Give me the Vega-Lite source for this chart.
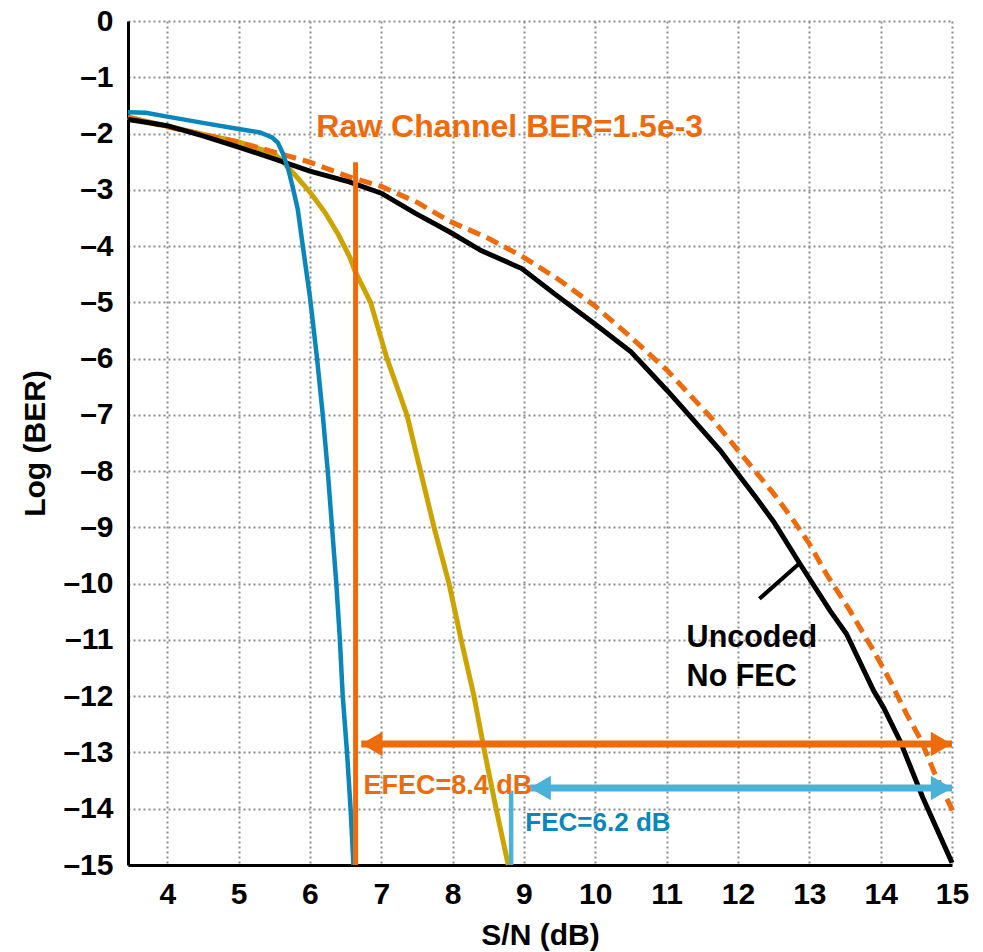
{
  "$schema": "https://vega.github.io/schema/vega-lite/v6.json",
  "width": 824,
  "height": 844,
  "autosize": {"type": "none"},
  "padding": {"left": 128, "top": 21, "right": 31, "bottom": 87},
  "background": "white",
  "config": {
    "view": {"stroke": null},
    "font": "Liberation Sans",
    "axis": {
      "grid": true,
      "gridColor": "#8c8c8c",
      "gridDash": [2, 3],
      "gridWidth": 2,
      "ticks": false,
      "domainColor": "#000000",
      "domainWidth": 3,
      "labelFont": "Liberation Sans",
      "labelFontWeight": "bold",
      "labelFontSize": 30,
      "labelColor": "#000000",
      "labelFlush": false,
      "labelOverlap": false,
      "titleFont": "Liberation Sans",
      "titleFontWeight": "bold",
      "titleFontSize": 30,
      "titleColor": "#000000"
    }
  },
  "datasets": {
    "curves": [
      {"series": "uncoded", "x": 3.45, "y": -1.75},
      {"series": "uncoded", "x": 3.7, "y": -1.8},
      {"series": "uncoded", "x": 4.0, "y": -1.86},
      {"series": "uncoded", "x": 4.5, "y": -2.04},
      {"series": "uncoded", "x": 5.0, "y": -2.24},
      {"series": "uncoded", "x": 5.5, "y": -2.45},
      {"series": "uncoded", "x": 6.0, "y": -2.67},
      {"series": "uncoded", "x": 6.55, "y": -2.86},
      {"series": "uncoded", "x": 7.0, "y": -3.06},
      {"series": "uncoded", "x": 7.48, "y": -3.42},
      {"series": "uncoded", "x": 7.96, "y": -3.75},
      {"series": "uncoded", "x": 8.4, "y": -4.08},
      {"series": "uncoded", "x": 8.97, "y": -4.4},
      {"series": "uncoded", "x": 9.43, "y": -4.85},
      {"series": "uncoded", "x": 9.99, "y": -5.38},
      {"series": "uncoded", "x": 10.5, "y": -5.88},
      {"series": "uncoded", "x": 11.01, "y": -6.57},
      {"series": "uncoded", "x": 11.34, "y": -7.04},
      {"series": "uncoded", "x": 11.75, "y": -7.63},
      {"series": "uncoded", "x": 12.0, "y": -8.05},
      {"series": "uncoded", "x": 12.27, "y": -8.5},
      {"series": "uncoded", "x": 12.5, "y": -8.9},
      {"series": "uncoded", "x": 12.87, "y": -9.65},
      {"series": "uncoded", "x": 13.29, "y": -10.48},
      {"series": "uncoded", "x": 13.52, "y": -10.89},
      {"series": "uncoded", "x": 13.9, "y": -11.9},
      {"series": "uncoded", "x": 14.04, "y": -12.2},
      {"series": "uncoded", "x": 14.27, "y": -12.79},
      {"series": "uncoded", "x": 14.59, "y": -13.8},
      {"series": "uncoded", "x": 15.0, "y": -14.96},
      {"series": "raw", "x": 3.45, "y": -1.71},
      {"series": "raw", "x": 4.0, "y": -1.88},
      {"series": "raw", "x": 4.5, "y": -2.02},
      {"series": "raw", "x": 5.0, "y": -2.15},
      {"series": "raw", "x": 5.5, "y": -2.33},
      {"series": "raw", "x": 6.0, "y": -2.51},
      {"series": "raw", "x": 6.55, "y": -2.77},
      {"series": "raw", "x": 7.0, "y": -2.94},
      {"series": "raw", "x": 7.5, "y": -3.22},
      {"series": "raw", "x": 7.96, "y": -3.56},
      {"series": "raw", "x": 8.5, "y": -3.86},
      {"series": "raw", "x": 8.97, "y": -4.18},
      {"series": "raw", "x": 9.47, "y": -4.58},
      {"series": "raw", "x": 9.99, "y": -5.06},
      {"series": "raw", "x": 10.5, "y": -5.62},
      {"series": "raw", "x": 11.0, "y": -6.2},
      {"series": "raw", "x": 11.66, "y": -7.1},
      {"series": "raw", "x": 12.0, "y": -7.63},
      {"series": "raw", "x": 12.5, "y": -8.4},
      {"series": "raw", "x": 12.78, "y": -8.88},
      {"series": "raw", "x": 13.0, "y": -9.29},
      {"series": "raw", "x": 13.24, "y": -9.83},
      {"series": "raw", "x": 13.57, "y": -10.48},
      {"series": "raw", "x": 13.9, "y": -11.19},
      {"series": "raw", "x": 14.13, "y": -11.72},
      {"series": "raw", "x": 14.36, "y": -12.31},
      {"series": "raw", "x": 14.57, "y": -12.79},
      {"series": "raw", "x": 14.75, "y": -13.35},
      {"series": "raw", "x": 15.03, "y": -14.09},
      {"series": "efec", "x": 3.45, "y": -1.71},
      {"series": "efec", "x": 4.0, "y": -1.87},
      {"series": "efec", "x": 4.5, "y": -2.01},
      {"series": "efec", "x": 5.0, "y": -2.15},
      {"series": "efec", "x": 5.5, "y": -2.36},
      {"series": "efec", "x": 5.62, "y": -2.5},
      {"series": "efec", "x": 5.8, "y": -2.75},
      {"series": "efec", "x": 6.0, "y": -3.04},
      {"series": "efec", "x": 6.21, "y": -3.4},
      {"series": "efec", "x": 6.4, "y": -3.8},
      {"series": "efec", "x": 6.56, "y": -4.2},
      {"series": "efec", "x": 6.63, "y": -4.44},
      {"series": "efec", "x": 6.85, "y": -5.0},
      {"series": "efec", "x": 7.08, "y": -6.0},
      {"series": "efec", "x": 7.36, "y": -7.0},
      {"series": "efec", "x": 7.55, "y": -8.0},
      {"series": "efec", "x": 7.74, "y": -9.0},
      {"series": "efec", "x": 7.95, "y": -10.0},
      {"series": "efec", "x": 8.12, "y": -11.0},
      {"series": "efec", "x": 8.3, "y": -12.0},
      {"series": "efec", "x": 8.45, "y": -13.0},
      {"series": "efec", "x": 8.61, "y": -14.0},
      {"series": "efec", "x": 8.78, "y": -15.0},
      {"series": "fec", "x": 3.45, "y": -1.62},
      {"series": "fec", "x": 3.7, "y": -1.63},
      {"series": "fec", "x": 4.0, "y": -1.7},
      {"series": "fec", "x": 4.5, "y": -1.81},
      {"series": "fec", "x": 5.0, "y": -1.92},
      {"series": "fec", "x": 5.3, "y": -1.98},
      {"series": "fec", "x": 5.47, "y": -2.07},
      {"series": "fec", "x": 5.55, "y": -2.16},
      {"series": "fec", "x": 5.62, "y": -2.35},
      {"series": "fec", "x": 5.7, "y": -2.65},
      {"series": "fec", "x": 5.76, "y": -2.96},
      {"series": "fec", "x": 5.83, "y": -3.35},
      {"series": "fec", "x": 5.9, "y": -4.0},
      {"series": "fec", "x": 6.0, "y": -4.9},
      {"series": "fec", "x": 6.1, "y": -6.0},
      {"series": "fec", "x": 6.18, "y": -7.0},
      {"series": "fec", "x": 6.25, "y": -8.0},
      {"series": "fec", "x": 6.31, "y": -9.0},
      {"series": "fec", "x": 6.37, "y": -10.0},
      {"series": "fec", "x": 6.42, "y": -11.0},
      {"series": "fec", "x": 6.46, "y": -12.0},
      {"series": "fec", "x": 6.52, "y": -13.0},
      {"series": "fec", "x": 6.57, "y": -14.0},
      {"series": "fec", "x": 6.61, "y": -15.0}
    ],
    "vrules": [
      {"name": "raw", "x": 6.64, "y": -2.51, "y2": -15},
      {"name": "fec", "x": 8.82, "y": -13.68, "y2": -15}
    ],
    "arrows": [
      {"name": "efec", "x": 6.72, "x2": 15.0, "y": -12.85},
      {"name": "fec", "x": 9.08, "x2": 15.0, "y": -13.63}
    ],
    "leader": [
      {"x": 12.3, "y": -10.27},
      {"x": 12.86, "y": -9.64}
    ],
    "labels": [
      {"name": "raw", "text": "Raw Channel BER=1.5e-3", "x": 6.09, "y": -2.06},
      {"name": "efec", "text": "EFEC=8.4 dB", "x": 6.75, "y": -13.73},
      {"name": "fec", "text": "FEC=6.2 dB", "x": 9.02, "y": -14.4},
      {"name": "uncoded", "text": "Uncoded", "x": 11.28, "y": -11.13},
      {"name": "uncoded", "text": "No FEC", "x": 11.28, "y": -11.81}
    ]
  },
  "layer": [
    {
      "data": {"name": "curves"},
      "transform": [{"filter": "datum.series == 'efec'"}],
      "mark": {"type": "line", "color": "#CCA300", "strokeWidth": 5, "clip": false},
      "encoding": {
        "x": {
          "field": "x", "type": "quantitative",
          "scale": {"domain": [3.45, 15], "nice": false, "zero": false},
          "axis": {
            "title": "S/N (dB)",
            "format": "d",
            "values": [4, 5, 6, 7, 8, 9, 10, 11, 12, 13, 14, 15],
            "labelPadding": 14,
            "titlePadding": 11
          }
        },
        "y": {
          "field": "y", "type": "quantitative",
          "scale": {"domain": [-15, 0], "nice": false, "zero": false},
          "axis": {
            "title": "Log (BER)",
            "values": [0, -1, -2, -3, -4, -5, -6, -7, -8, -9, -10, -11, -12, -13, -14, -15],
            "labelExpr": "datum.value == 0 ? '0' : '–' + abs(datum.value)",
            "labelPadding": 15,
            "titlePadding": 12
          }
        },
        "order": {"field": "x", "type": "quantitative"}
      }
    },
    {
      "data": {"name": "curves"},
      "transform": [{"filter": "datum.series == 'raw'"}],
      "mark": {"type": "line", "color": "#EE6B0C", "strokeWidth": 5, "strokeDash": [13, 7], "clip": false},
      "encoding": {
        "x": {"field": "x", "type": "quantitative"},
        "y": {"field": "y", "type": "quantitative"},
        "order": {"field": "x", "type": "quantitative"}
      }
    },
    {
      "data": {"name": "curves"},
      "transform": [{"filter": "datum.series == 'uncoded'"}],
      "mark": {"type": "line", "color": "#000000", "strokeWidth": 5},
      "encoding": {
        "x": {"field": "x", "type": "quantitative"},
        "y": {"field": "y", "type": "quantitative"},
        "order": {"field": "x", "type": "quantitative"}
      }
    },
    {
      "data": {"name": "curves"},
      "transform": [{"filter": "datum.series == 'fec'"}],
      "mark": {"type": "line", "color": "#0A86BA", "strokeWidth": 4.5},
      "encoding": {
        "x": {"field": "x", "type": "quantitative"},
        "y": {"field": "y", "type": "quantitative"},
        "order": {"field": "x", "type": "quantitative"}
      }
    },
    {
      "data": {"name": "vrules"},
      "transform": [{"filter": "datum.name == 'raw'"}],
      "mark": {"type": "rule", "color": "#EE6B0C", "strokeWidth": 5},
      "encoding": {
        "x": {"field": "x", "type": "quantitative"},
        "y": {"field": "y", "type": "quantitative"},
        "y2": {"field": "y2"}
      }
    },
    {
      "data": {"name": "vrules"},
      "transform": [{"filter": "datum.name == 'fec'"}],
      "mark": {"type": "rule", "color": "#4AB2D8", "strokeWidth": 4.5},
      "encoding": {
        "x": {"field": "x", "type": "quantitative"},
        "y": {"field": "y", "type": "quantitative"},
        "y2": {"field": "y2"}
      }
    },
    {
      "data": {"name": "arrows"},
      "transform": [{"filter": "datum.name == 'efec'"}],
      "mark": {"type": "rule", "color": "#EE6B0C", "strokeWidth": 7},
      "encoding": {
        "x": {"field": "x", "type": "quantitative"},
        "x2": {"field": "x2"},
        "y": {"field": "y", "type": "quantitative"}
      }
    },
    {
      "data": {"name": "arrows"},
      "transform": [{"filter": "datum.name == 'efec'"}],
      "mark": {"type": "point", "shape": "triangle-left", "filled": true, "color": "#EE6B0C", "opacity": 1, "size": 600, "xOffset": 10.6},
      "encoding": {
        "x": {"field": "x", "type": "quantitative"},
        "y": {"field": "y", "type": "quantitative"}
      }
    },
    {
      "data": {"name": "arrows"},
      "transform": [{"filter": "datum.name == 'efec'"}],
      "mark": {"type": "point", "shape": "triangle-right", "filled": true, "color": "#EE6B0C", "opacity": 1, "size": 600, "xOffset": -10.6},
      "encoding": {
        "x": {"field": "x2", "type": "quantitative"},
        "y": {"field": "y", "type": "quantitative"}
      }
    },
    {
      "data": {"name": "arrows"},
      "transform": [{"filter": "datum.name == 'fec'"}],
      "mark": {"type": "rule", "color": "#4AB2D8", "strokeWidth": 7},
      "encoding": {
        "x": {"field": "x", "type": "quantitative"},
        "x2": {"field": "x2"},
        "y": {"field": "y", "type": "quantitative"}
      }
    },
    {
      "data": {"name": "arrows"},
      "transform": [{"filter": "datum.name == 'fec'"}],
      "mark": {"type": "point", "shape": "triangle-left", "filled": true, "color": "#4AB2D8", "opacity": 1, "size": 600, "xOffset": 10.6},
      "encoding": {
        "x": {"field": "x", "type": "quantitative"},
        "y": {"field": "y", "type": "quantitative"}
      }
    },
    {
      "data": {"name": "arrows"},
      "transform": [{"filter": "datum.name == 'fec'"}],
      "mark": {"type": "point", "shape": "triangle-right", "filled": true, "color": "#4AB2D8", "opacity": 1, "size": 600, "xOffset": -10.6},
      "encoding": {
        "x": {"field": "x2", "type": "quantitative"},
        "y": {"field": "y", "type": "quantitative"}
      }
    },
    {
      "data": {"name": "leader"},
      "mark": {"type": "line", "color": "#000000", "strokeWidth": 4},
      "encoding": {
        "x": {"field": "x", "type": "quantitative"},
        "y": {"field": "y", "type": "quantitative"}
      }
    },
    {
      "data": {"name": "labels"},
      "transform": [{"filter": "datum.name == 'raw'"}],
      "mark": {"type": "text", "align": "left", "baseline": "alphabetic", "font": "Liberation Sans", "fontWeight": "bold", "fontSize": 32, "color": "#EE6B0C"},
      "encoding": {
        "x": {"field": "x", "type": "quantitative"},
        "y": {"field": "y", "type": "quantitative"},
        "text": {"field": "text"}
      }
    },
    {
      "data": {"name": "labels"},
      "transform": [{"filter": "datum.name == 'efec'"}],
      "mark": {"type": "text", "align": "left", "baseline": "alphabetic", "font": "Liberation Sans", "fontWeight": "bold", "fontSize": 27, "color": "#EE6B0C"},
      "encoding": {
        "x": {"field": "x", "type": "quantitative"},
        "y": {"field": "y", "type": "quantitative"},
        "text": {"field": "text"}
      }
    },
    {
      "data": {"name": "labels"},
      "transform": [{"filter": "datum.name == 'fec'"}],
      "mark": {"type": "text", "align": "left", "baseline": "alphabetic", "font": "Liberation Sans", "fontWeight": "bold", "fontSize": 26, "color": "#0A86BA"},
      "encoding": {
        "x": {"field": "x", "type": "quantitative"},
        "y": {"field": "y", "type": "quantitative"},
        "text": {"field": "text"}
      }
    },
    {
      "data": {"name": "labels"},
      "transform": [{"filter": "datum.name == 'uncoded'"}],
      "mark": {"type": "text", "align": "left", "baseline": "alphabetic", "font": "Liberation Sans", "fontWeight": "bold", "fontSize": 30.5, "color": "#000000"},
      "encoding": {
        "x": {"field": "x", "type": "quantitative"},
        "y": {"field": "y", "type": "quantitative"},
        "text": {"field": "text"}
      }
    }
  ]
}
